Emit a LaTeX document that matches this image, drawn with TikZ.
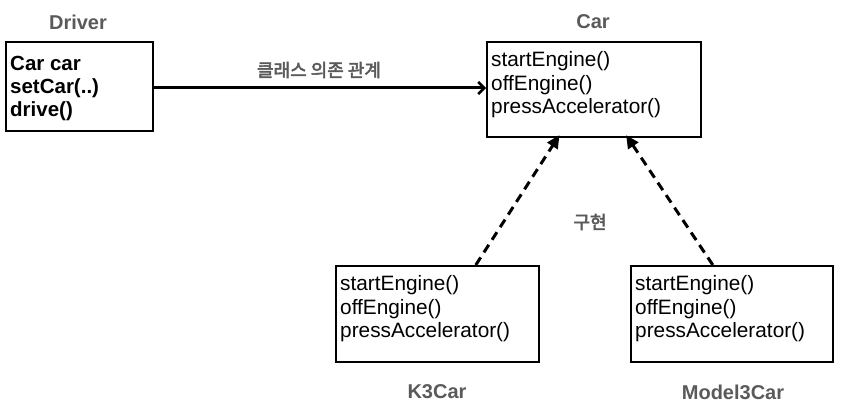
\documentclass[tikz,border=0pt]{standalone}
\usepackage{fontspec}
\setmainfont{Liberation Sans}
\newfontfamily\kr{Noto Sans CJK KR}[FakeBold=3]
\usetikzlibrary{arrows.meta,calc}
\definecolor{lbl}{HTML}{5a5a5a}
\tikzset{
  box/.style={draw=black, line width=1.6pt, rectangle, inner sep=0pt, anchor=north west},
  body/.style={anchor=north west, align=left, inner sep=0pt, font=\fontsize{20.8}{23.8}\selectfont},
  title/.style={text=lbl, font=\fontsize{20}{22}\selectfont\bfseries, inner sep=0pt},
  krlabel/.style={text=lbl, font=\fontsize{18}{20}\selectfont\kr, inner sep=0pt},
  solidarrow/.style={line width=3pt, -{Straight Barb[length=6pt,width=12pt,line width=2.5pt]}},
  implarrow/.style={line width=3pt, dash pattern=on 9pt off 6pt, -{Triangle[length=13pt,width=12pt]}, shorten >=-3pt}
}
\begin{document}
\begin{tikzpicture}[x=1pt,y=-1pt]
\useasboundingbox (0,0) rectangle (863,414);
% boxes
\node[box, minimum width=147pt, minimum height=89pt] (driver) at (5,41) {};
\node[box, minimum width=214pt, minimum height=95pt] (car) at (486,41) {};
\node[box, minimum width=203pt, minimum height=96pt] (k3) at (335,265) {};
\node[box, minimum width=202pt, minimum height=96pt] (model3) at (630,265) {};
% titles
\node[title] (tdriver) at (78,22) {Driver};
\node[title] (tcar) at (593,22) {Car};
\node[title] (tk3) at (437,392) {K3Car};
\node[title] (tmodel3) at (733,392) {Model3Car};
% bodies
\node[body, font=\fontsize{20.5}{23}\selectfont\bfseries] (bdriver) at (10,56) {Car car\\setCar(..)\\drive()};
\node[body] (bcar) at (491,51) {startEngine()\\offEngine()\\pressAccelerator()};
\node[body] (bk3) at (340,275) {startEngine()\\offEngine()\\pressAccelerator()};
\node[body] (bmodel3) at (635,275) {startEngine()\\offEngine()\\pressAccelerator()};
% connectors
\draw[solidarrow] (driver.east |- 0,88) -- (car.west |- 0,88);
\node[krlabel] (ldep) at (319,70) {클래스 의존 관계};
\draw[implarrow] ([xshift=38.5pt]k3.north) -- ([xshift=-36pt]car.south);
\draw[implarrow] ([xshift=-19pt]model3.north) -- ([xshift=34pt]car.south);
\node[krlabel] (limpl) at (590,222) {구현};
\end{tikzpicture}
\end{document}
